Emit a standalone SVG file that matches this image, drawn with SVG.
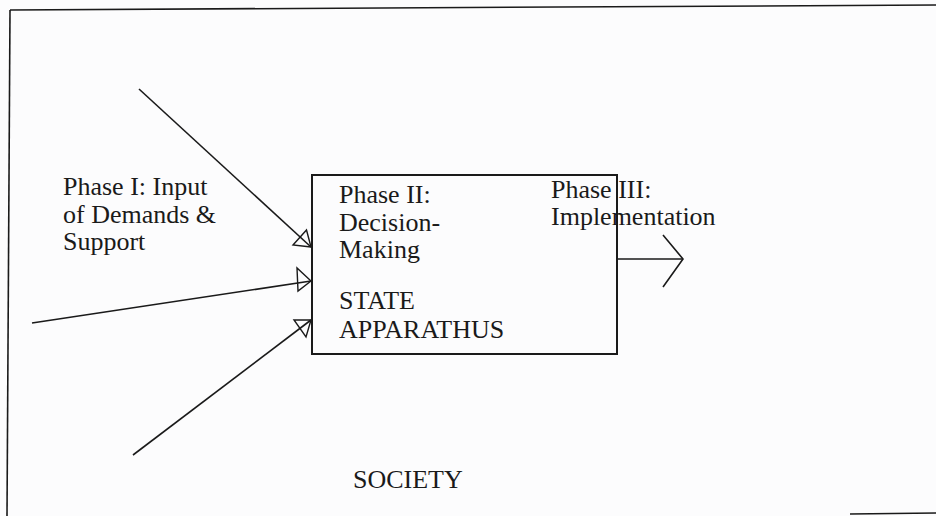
<svg xmlns="http://www.w3.org/2000/svg" width="936" height="516" viewBox="0 0 936 516">
<style>
.t{font-family:"Liberation Serif","Times New Roman",serif;font-size:26px;fill:#1a1a1a}
.ln{stroke:#1a1a1a;stroke-width:1.6;fill:none}
.ah{stroke:#1a1a1a;stroke-width:1.4;fill:none;stroke-linejoin:miter}
</style>
<rect width="936" height="516" fill="#fcfcfd"/>
<g id="frame">
<path class="ln" d="M10,10 L936,5" stroke-width="2.2"/>
<path class="ln" d="M10,10 L7,516" stroke-width="2"/>
<path class="ln" d="M850,514 L936,513" stroke-width="2"/>
</g>
<g id="connectors">
<line class="ln" x1="139" y1="89" x2="311" y2="247"/>
<polygon class="ah" points="311,247 293,245 306.5,230"/>
<line class="ln" x1="32" y1="323" x2="311" y2="281"/>
<polygon class="ah" points="311,281 297,268 298,291"/>
<line class="ln" x1="133" y1="455" x2="311" y2="320"/>
<polygon class="ah" points="311,320 294,320 306,337"/>
<line class="ln" x1="617" y1="259" x2="683" y2="259"/>
<polyline class="ln" points="663,235 683,259 663,287"/>
</g>
<g id="phase1">
<text class="t" x="63" y="195">Phase I: Input</text>
<text class="t" x="63" y="223">of Demands &amp;</text>
<text class="t" x="63" y="250">Support</text>
</g>
<g id="state">
<rect x="312" y="175" width="305" height="179" fill="none" stroke="#1a1a1a" stroke-width="2"/>
<text class="t" x="339" y="203">Phase II:</text>
<text class="t" x="339" y="231">Decision-</text>
<text class="t" x="339" y="258">Making</text>
<text class="t" x="339" y="309">STATE</text>
<text class="t" x="339" y="338">APPARATHUS</text>
</g>
<g id="phase3">
<text class="t" x="551" y="198">Phase III:</text>
<text class="t" x="551" y="225">Implementation</text>
</g>
<g id="society">
<text class="t" x="353" y="488">SOCIETY</text>
</g>
</svg>
